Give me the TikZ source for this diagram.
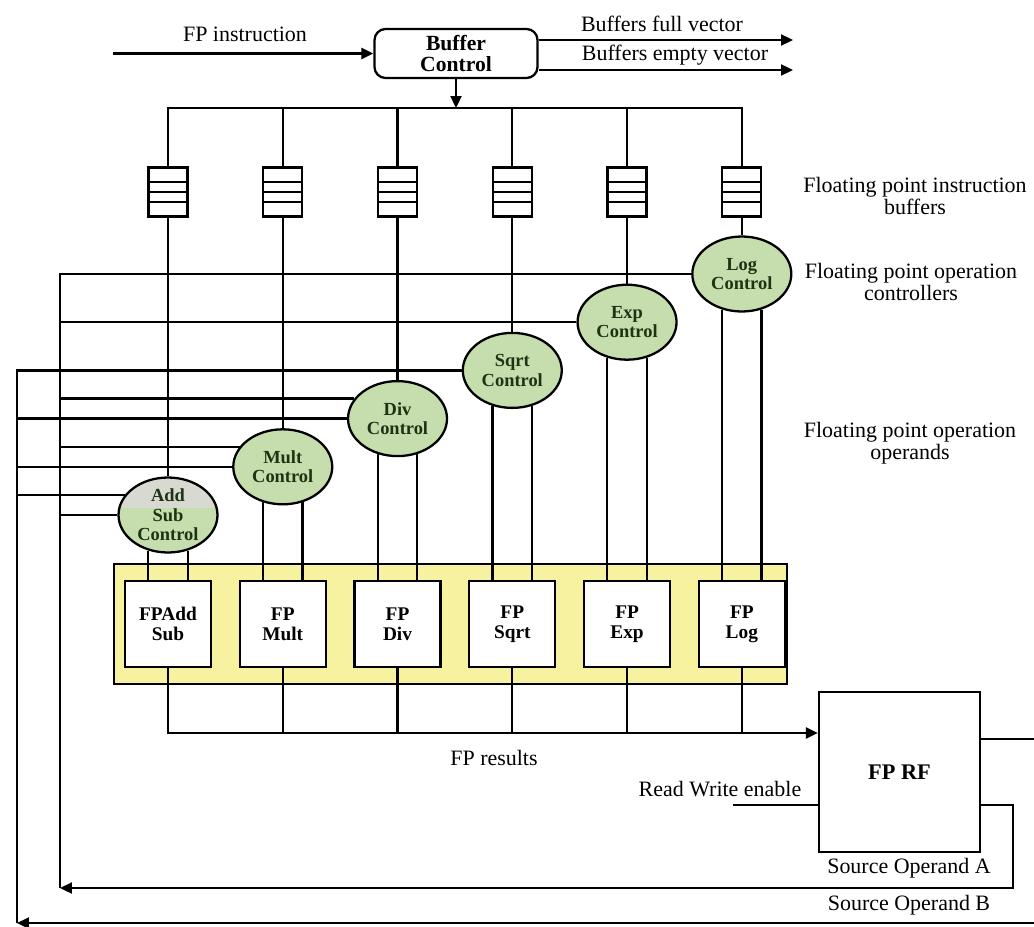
\documentclass[tikz,border=0pt]{standalone}
\usepackage{fontspec}
\setmainfont{Liberation Serif}
\usetikzlibrary{arrows.meta,positioning,shapes.geometric}
\definecolor{ctlgreen}{RGB}{198,222,174}
\definecolor{ctlgrey}{RGB}{216,218,210}
\definecolor{ctltext}{RGB}{28,52,18}
\definecolor{unityellow}{RGB}{246,242,160}

\begin{document}
\begin{tikzpicture}[x=0.02cm,y=-0.02cm,line width=1.3pt,node distance=0.53cm,
    font=\fontsize{12.5}{12.5}\selectfont,
    u/.style={draw,fill=white,minimum width=1.72cm,minimum height=1.72cm,inner sep=0pt,align=center,font=\fontsize{11}{11.5}\selectfont\bfseries},
    c/.style={ellipse,draw,fill=ctlgreen,minimum width=1.98cm,minimum height=1.5cm,inner sep=0pt,align=center,text=ctltext,font=\fontsize{10.5}{11}\selectfont\bfseries},
    buf/.style={draw,minimum width=0.78cm,minimum height=0.98cm,inner sep=0pt,
      path picture={\draw ([yshift=0.2cm]path picture bounding box.west)--([yshift=0.2cm]path picture bounding box.east);
        \draw (path picture bounding box.west)--(path picture bounding box.east);
        \draw ([yshift=-0.2cm]path picture bounding box.west)--([yshift=-0.2cm]path picture bounding box.east);}},
    a/.style={-{Triangle[length=0.24cm,width=0.22cm]}}]
  \useasboundingbox (0,0) rectangle (1034,926);
  \clip (0,0) rectangle (1034,926);
  % buffer control
  \node[draw,rounded corners=0.22cm,minimum width=3.26cm,minimum height=0.98cm,inner sep=0pt,align=center,font=\fontsize{12.3}{12.3}\selectfont\bfseries] (bc) at (456,53.5) {Buffer\\Control};
  \coordinate (fpin) at (113,53.5);
  \coordinate (full) at (793,40);
  \coordinate (empty) at (793,70);
  \coordinate (bus) at (0,108);
  \draw[a] (fpin) -- (bc.west);
  \draw[a] (bc.east |- full) -- (full);
  \draw[a] (bc.east |- empty) -- (empty);
  \node at (245,34) {FP instruction};
  \node at (662,24) {Buffers full vector};
  \node at (675,55) {Buffers empty vector};
  % units
  \node[draw,fill=unityellow,minimum width=13.46cm,minimum height=2.4cm] (units) at (450.5,624) {};
  \node[u] (u1) at (168,624) {FPAdd\\Sub};
  \node[u,right=of u1] (u2) {FP\\Mult};
  \node[u,right=of u2] (u3) {FP\\Div};
  \node[u,right=of u3] (u4) {FP\\Sqrt};
  \node[u,right=of u4] (u5) {FP\\Exp};
  \node[u,right=of u5] (u6) {FP\\Log};
  % buffers
  \node[buf] (b1) at (u1 |- 0,192) {};
  \node[buf] (b2) at (u2 |- 0,192) {};
  \node[buf] (b3) at (u3 |- 0,192) {};
  \node[buf] (b4) at (u4 |- 0,192) {};
  \node[buf] (b5) at (u5 |- 0,192) {};
  \node[buf] (b6) at (u6 |- 0,192) {};
  % controllers
  \node[c,path picture={\fill[ctlgrey] (path picture bounding box.north west) rectangle ([yshift=0.14cm]path picture bounding box.east);}] (c1) at (u1 |- 0,515) {Add\\Sub\\Control};
  \node[c] (c2) at (u2 |- 0,466.8) {Mult\\Control};
  \node[c] (c3) at (u3 |- 0,418.6) {Div\\Control};
  \node[c] (c4) at (u4 |- 0,370.4) {Sqrt\\Control};
  \node[c] (c5) at (u5 |- 0,322.2) {Exp\\Control};
  \node[c] (c6) at (u6 |- 0,274) {Log\\Control};
  % register file
  \node[draw,minimum width=3.22cm,minimum height=3.2cm,font=\fontsize{12.7}{13}\selectfont\bfseries] (rf) at (899.5,772) {FP RF};
  \coordinate (res) at ([yshift=0.78cm]rf.west);
  \coordinate (rw) at (733,805);
  \coordinate (railA) at (60,888);
  \coordinate (railB) at (17,923);
  % instruction bus
  \draw[a] (bc.south) -- (bc.south |- bus);
  \draw (b1.north) |- (b6.north |- bus) -- (b6.north);
  \draw (b2.north) -- (b2.north |- bus); \draw (b3.north) -- (b3.north |- bus);
  \draw (b4.north) -- (b4.north |- bus); \draw (b5.north) -- (b5.north |- bus);
  \draw (b1.south) -- (c1.north); \draw (b2.south) -- (c2.north); \draw (b3.south) -- (c3.north);
  \draw (b4.south) -- (c4.north); \draw (b5.south) -- (c5.north); \draw (b6.south) -- (c6.north);
  % controllers to units
  \draw (c1.241) -- (c1.241 |- u1.north); \draw (c1.299) -- (c1.299 |- u1.north);
  \draw (c2.241) -- (c2.241 |- u2.north); \draw (c2.299) -- (c2.299 |- u2.north);
  \draw (c3.241) -- (c3.241 |- u3.north); \draw (c3.299) -- (c3.299 |- u3.north);
  \draw (c4.241) -- (c4.241 |- u4.north); \draw (c4.299) -- (c4.299 |- u4.north);
  \draw (c5.241) -- (c5.241 |- u5.north); \draw (c5.299) -- (c5.299 |- u5.north);
  \draw (c6.241) -- (c6.241 |- u6.north); \draw (c6.299) -- (c6.299 |- u6.north);
  % results
  \draw[a] (u1.south) |- (res);
  \draw (u2.south) -- (u2.south |- res); \draw (u3.south) -- (u3.south |- res);
  \draw (u4.south) -- (u4.south |- res); \draw (u5.south) -- (u5.south |- res);
  \draw (u6.south) -- (u6.south |- res);
  \node at (494,758) {FP results};
  \draw (rw) -- (rw -| rf.west);
  \node at (720,789) {Read Write enable};
  % operands back to controllers
  \draw[a] ([yshift=-0.66cm]rf.east) -- ++(32,0) |- (railA);
  \draw[a] ([yshift=0.66cm]rf.east) -- ++(70,0) |- (railB);
  \node at (909,868) {Source Operand A};
  \node at (909,905) {Source Operand B};
  \draw (railA) |- (c6.west);
  \draw (railB) |- (c4.west);
  \draw (c5.west) -- (c5.west -| railA);
  \draw (c3.155) -- (c3.155 -| railA); \draw (c3.west) -- (c3.west -| railB);
  \draw (c2.155) -- (c2.155 -| railA); \draw (c2.west) -- (c2.west -| railB);
  \draw (c1.155) -- (c1.155 -| railB); \draw (c1.west) -- (c1.west -| railA);
  % side notes
  \node[align=center] at (915,196) {Floating point instruction\\buffers};
  \node[align=center] at (911,282) {Floating point operation\\controllers};
  \node[align=center] at (910,443) {Floating point operation\\operands};
\end{tikzpicture}
\end{document}
